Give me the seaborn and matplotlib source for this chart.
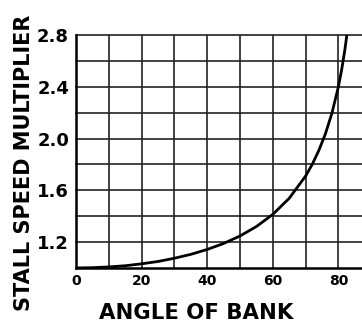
import matplotlib
matplotlib.use("Agg")
import matplotlib.pyplot as plt
import seaborn as sns
import pandas as pd

# Stall speed multiplier versus bank angle
bank_angle = [0, 5, 10, 15, 20, 25, 30, 35, 40, 45, 50, 55, 60, 65, 70,
              72, 74, 76, 78, 80, 81, 82, 83]
multiplier = [1.000, 1.002, 1.008, 1.017, 1.032, 1.050, 1.075, 1.105, 1.143,
              1.189, 1.247, 1.320, 1.414, 1.538, 1.710, 1.799, 1.906,
              2.033, 2.193, 2.400, 2.532, 2.690, 2.880]

x_ticks = [0, 20, 40, 60, 80]
y_ticks = [1.2, 1.6, 2.0, 2.4, 2.8]
x_grid = [0, 10, 20, 30, 40, 50, 60, 70, 80]
y_grid = [1.0, 1.2, 1.4, 1.6, 1.8, 2.0, 2.2, 2.4, 2.6, 2.8]

sns.set_style("white")
plt.rcParams["font.family"] = ["DejaVu Sans"]
plt.rcParams["text.color"] = "black"
plt.rcParams["axes.labelcolor"] = "black"
plt.rcParams["xtick.color"] = "black"
plt.rcParams["ytick.color"] = "black"

df = pd.DataFrame({"angle": bank_angle, "mult": multiplier})

fig = plt.figure(figsize=(3.62, 3.24), dpi=100)
ax = fig.add_axes([0.21, 0.173, 0.79, 0.719])

grid_color = "#222222"
for gx in x_grid[1:]:
    ax.axvline(gx, color=grid_color, lw=1.2, zorder=1)
for gy in y_grid[1:]:
    ax.axhline(gy, color=grid_color, lw=1.2, zorder=1, clip_on=False)

sns.lineplot(data=df, x="angle", y="mult", ax=ax, color="black", lw=2.0,
             zorder=3, sort=True)

ax.set_xlim(0, 87.2)
ax.set_ylim(1.0, 2.8)

ax.set_xticks(x_ticks)
ax.set_xticklabels([str(v) for v in x_ticks], fontsize=10, fontweight="bold")
ax.set_yticks(y_ticks)
ax.set_yticklabels([f"{v:.1f}" for v in y_ticks], fontsize=13, fontweight="bold")
ax.tick_params(axis="both", direction="out", length=3, width=1.2,
               color="black", pad=2)
ax.tick_params(axis="x", pad=1)

for side in ["top", "right"]:
    ax.spines[side].set_visible(False)
for side in ["left", "bottom"]:
    ax.spines[side].set_linewidth(1.8)
    ax.spines[side].set_color("black")

ax.set_xlabel("ANGLE OF BANK", fontsize=15.3, fontweight="bold")
ax.set_ylabel("STALL SPEED MULTIPLIER", fontsize=15, fontweight="bold")
ax.xaxis.set_label_coords(0.42, -0.15)
ax.yaxis.set_label_coords(-0.147, 0.45)

fig.savefig("out.png", dpi=100, facecolor="white")
